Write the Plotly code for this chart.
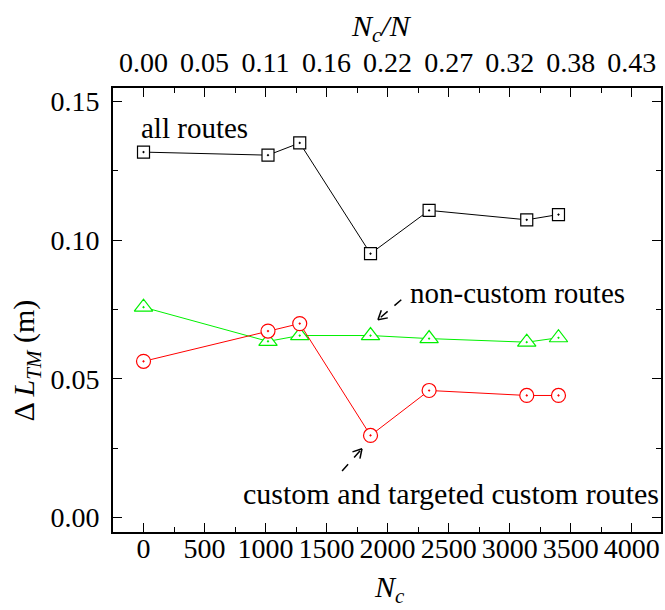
import math
import plotly.graph_objects as go

# Number of custom routes N_c and the resulting Delta L_TM (m)
n_custom = [0, 1020, 1280, 1860, 2340, 3140, 3400]
all_routes = [0.1317, 0.1306, 0.1350, 0.0951, 0.1107, 0.1073, 0.1092]
non_custom = [0.0758, 0.0635, 0.0656, 0.0656, 0.0645, 0.0632, 0.0648]
custom_targeted = [0.0563, 0.0672, 0.0699, 0.0296, 0.0458, 0.0440, 0.0440]

# Axis ticks: N_c on the bottom, N_c/N on the top
x_ticks = [0, 500, 1000, 1500, 2000, 2500, 3000, 3500, 4000]
top_labels = ["0.00", "0.05", "0.11", "0.16", "0.22", "0.27", "0.32", "0.38", "0.43"]
y_ticks = [0.00, 0.05, 0.10, 0.15]

X_RANGE = [-250, 4240]
Y_RANGE = [-0.0052, 0.1548]
SERIF = "Liberation Serif"

fig = go.Figure()

series = [
    (all_routes, "black", "square-dot", 12),
    (non_custom, "#00f000", "triangle-up-dot", 16),
    (custom_targeted, "#ff0000", "circle-dot", 14),
]
for vals, col, sym, sz in series:
    fig.add_trace(go.Scatter(
        x=n_custom, y=vals, mode="lines+markers",
        line=dict(color=col, width=1),
        marker=dict(symbol=sym, size=sz, color="white",
                    line=dict(color=col, width=1.2)),
        showlegend=False, hoverinfo="skip",
    ))

# invisible trace so the top axis is drawn
fig.add_trace(go.Scatter(x=[0], y=[0], xaxis="x2", mode="markers",
                         marker=dict(opacity=0), showlegend=False,
                         hoverinfo="skip"))

axis_common = dict(
    showgrid=False, zeroline=False, showline=True, linecolor="black",
    linewidth=2, ticks="inside", ticklen=9, tickwidth=1.2, tickcolor="black",
    tickfont=dict(family=SERIF, size=28, color="black"),
)
minor_x = dict(ticks="inside", ticklen=5, dtick=250, tick0=0,
               tickcolor="black", tickwidth=1.2)

fig.update_layout(
    width=665, height=610,
    margin=dict(l=113, r=2, t=88, b=78),
    paper_bgcolor="white", plot_bgcolor="white",
    xaxis=dict(range=X_RANGE, tickvals=x_ticks, ticklabelstandoff=-10,
               minor=minor_x, **axis_common),
    xaxis2=dict(range=X_RANGE, overlaying="x", side="top", tickvals=x_ticks,
                ticktext=top_labels, ticklabelstandoff=3,
                minor=minor_x, **axis_common),
    yaxis=dict(range=Y_RANGE, tickvals=y_ticks, tickformat=".2f",
               mirror="ticks", ticklabelstandoff=6,
               minor=dict(ticks="inside", ticklen=5, dtick=0.025, tick0=0,
                          tickcolor="black", tickwidth=1.2),
               **axis_common),
)

# Series labels
label_font = dict(family=SERIF, size=29, color="black")
fig.add_annotation(x=-41, y=0.1405, text="all routes", showarrow=False,
                   xanchor="left", yanchor="middle", font=label_font)
fig.add_annotation(x=2171, y=0.0808, text="non-custom routes", showarrow=False,
                   xanchor="left", yanchor="middle", font=label_font)
fig.add_annotation(x=796, y=0.0088, text="custom and targeted custom routes",
                   showarrow=False, xanchor="left", yanchor="middle",
                   font=dict(family=SERIF, size=30, color="black"))

# Dashed pointer arrows: tail (x, y) -> tip (x, y), plus the on-screen
# direction from tip back to tail (pixels, y up) for the open arrowhead
arrows = [
    (2112, 0.0785, 1921, 0.0713, (23.4, 20.0)),
    (1627, 0.0168, 1790, 0.0248, (-20.0, -22.4)),
]
HEAD_LEN, HEAD_ANGLE = 10, math.radians(30)
for tx, ty, hx, hy, (dx, dy) in arrows:
    fig.add_shape(type="line", x0=tx, y0=ty, x1=hx, y1=hy,
                  line=dict(color="black", width=1.5, dash="dash"))
    base = math.atan2(dy, dx)
    for sign in (1, -1):
        ang = base + sign * HEAD_ANGLE
        fig.add_shape(type="line", xsizemode="pixel", ysizemode="pixel",
                      xanchor=hx, yanchor=hy, x0=0, y0=0,
                      x1=HEAD_LEN * math.cos(ang), y1=HEAD_LEN * math.sin(ang),
                      line=dict(color="black", width=1.5))

# Axis titles
title_font = dict(family=SERIF, size=30, color="black")
fig.add_annotation(xref="paper", yref="paper", x=-0.158, y=0.387,
                   text="Δ <i>L</i><sub><i>TM</i></sub> (m)", textangle=-90,
                   showarrow=False, xanchor="center", yanchor="middle",
                   font=title_font)
fig.add_annotation(xref="paper", yref="paper", x=0.504, y=-0.128,
                   text="<i>N</i><sub><i>c</i></sub>", showarrow=False,
                   xanchor="center", yanchor="middle", font=title_font)
fig.add_annotation(xref="paper", yref="paper", x=0.49, y=1.135,
                   text="<i>N</i><sub><i>c</i></sub><i>/N</i>",
                   showarrow=False, xanchor="center", yanchor="middle",
                   font=title_font)

fig.write_html("out.html")
